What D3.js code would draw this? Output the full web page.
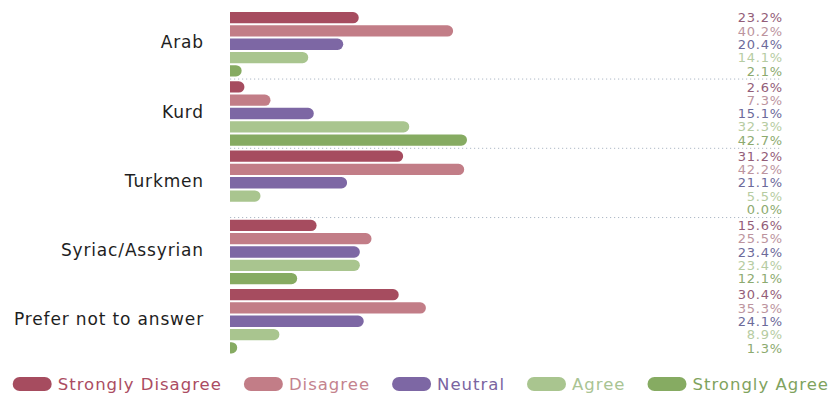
<!DOCTYPE html>
<html>
<head>
<meta charset="utf-8">
<script src="https://cdn.jsdelivr.net/npm/d3@7/dist/d3.min.js"></script>
<style>
  html, body { margin: 0; padding: 0; background: #fff; }
  svg { display: block; }
  text { font-family: "DejaVu Sans", sans-serif; }
</style>
</head>
<body>
<svg id="chart" width="831" height="393"></svg>
<script>
// Survey responses by group (percent)
const categories = ["Arab", "Kurd", "Turkmen", "Syriac/Assyrian", "Prefer not to answer"];
const seriesNames = ["Strongly Disagree", "Disagree", "Neutral", "Agree", "Strongly Agree"];
const stronglyDisagree = [23.2, 2.6, 31.2, 15.6, 30.4];
const disagree        = [40.2, 7.3, 42.2, 25.5, 35.3];
const neutral         = [20.4, 15.1, 21.1, 23.4, 24.1];
const agree           = [14.1, 32.3, 5.5, 23.4, 8.9];
const stronglyAgree   = [2.1, 42.7, 0.0, 12.1, 1.3];
const seriesValues = [stronglyDisagree, disagree, neutral, agree, stronglyAgree];

const barColors   = ["#a64c5f", "#c27d87", "#7d67a4", "#a9c58f", "#86ab62"];
const valueColors = ["#935d78", "#bc949e", "#6c6a9a", "#b6cca2", "#8caa6f"];
const legendColors = ["#ab4c62", "#c4838e", "#7a64a1", "#a9c493", "#7fa35e"];

const svg = d3.select("#chart");

const x = d3.scaleLinear().domain([0, 100]).range([230, 785]);
const yGroup = d3.scaleBand().domain(categories).range([12, 358.25]).paddingInner(0);
const ySeries = d3.scaleBand().domain(seriesNames).range([0, 64.5]).paddingInner(0.15).paddingOuter(0);

// bar with square left edge and rounded right end
function barPath(x0, y0, w, h) {
  if (w <= 0) return null;
  const r = Math.min(h / 2, w);
  return `M${x0},${y0}H${x0 + w - r}A${r},${r} 0 0 1 ${x0 + w},${y0 + r}` +
         `V${y0 + h - r}A${r},${r} 0 0 1 ${x0 + w - r},${y0 + h}H${x0}Z`;
}

const rows = [];
categories.forEach((c, ci) => {
  seriesNames.forEach((s, si) => {
    rows.push({ cat: c, series: s, si, value: seriesValues[si][ci] });
  });
});

// dotted separators between groups
svg.append("g").selectAll("line")
  .data(categories.slice(1, 4))
  .join("line")
  .attr("x1", x(0)).attr("x2", 780)
  .attr("y1", d => yGroup(d) - 2.2).attr("y2", d => yGroup(d) - 2.2)
  .attr("stroke", "#aeb8c6")
  .attr("stroke-width", 1)
  .attr("stroke-dasharray", "1.2,2.8");

// bars
svg.append("g").selectAll("path")
  .data(rows.filter(d => d.value > 0))
  .join("path")
  .attr("d", d => barPath(x(0), yGroup(d.cat) + ySeries(d.series), x(d.value) - x(0), ySeries.bandwidth()))
  .attr("fill", d => barColors[d.si]);

// value labels on the right
svg.append("g").selectAll("text")
  .data(rows)
  .join("text")
  .attr("x", 783)
  .attr("y", d => yGroup(d.cat) + ySeries(d.series) + ySeries.bandwidth() / 2)
  .attr("dy", "0.36em")
  .attr("text-anchor", "end")
  .attr("font-size", 13)
  .attr("letter-spacing", "0.8px")
  .attr("fill", d => valueColors[d.si])
  .text(d => d.value.toFixed(1) + "%");

// category labels
svg.append("g").selectAll("text")
  .data(categories)
  .join("text")
  .attr("x", 204)
  .attr("y", d => yGroup(d) + ySeries("Neutral") + ySeries.bandwidth() / 2 - 2)
  .attr("dy", "0.36em")
  .attr("text-anchor", "end")
  .attr("font-size", 17)
  .attr("letter-spacing", "0.85px")
  .attr("fill", "#1e1e1e")
  .text(d => d);

// legend
const legend = svg.append("g");
let lx = 12.7;
const ly = 384;
seriesNames.forEach((s, i) => {
  legend.append("rect")
    .attr("x", lx).attr("y", ly - 7)
    .attr("width", 39).attr("height", 14)
    .attr("rx", 7).attr("ry", 7)
    .attr("fill", barColors[i]);
  const t = legend.append("text")
    .attr("x", lx + 45)
    .attr("y", ly)
    .attr("dy", "0.36em")
    .attr("font-size", 16.5)
    .attr("letter-spacing", "1px")
    .attr("fill", legendColors[i])
    .text(s);
  lx = lx + 45 + t.node().getComputedTextLength() + 22;
});
</script>
</body>
</html>
